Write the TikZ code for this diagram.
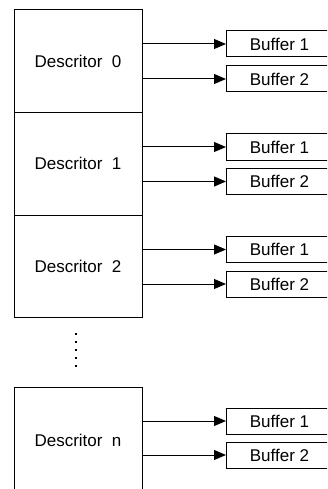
\documentclass[tikz,border=0pt]{standalone}
\usepackage{fontspec}
\setmainfont{Liberation Sans}
\usetikzlibrary{arrows.meta}
\begin{document}
\begin{tikzpicture}[x=1pt,y=-1pt,
  every node/.style={font=\fontsize{17}{20}\selectfont, inner sep=0pt},
  desc/.style={draw, line width=1pt, minimum width=128pt, minimum height=103pt},
  buf/.style={draw, line width=1pt, anchor=west, minimum width=106pt, minimum height=26pt},
  link/.style={line width=1pt, -{Triangle[length=12pt,width=10pt]}}]
\clip (0,0) rectangle (327,489);
\fill[white] (0,0) rectangle (327,489);
% descriptors
\node[desc] (d0) at (78,61.5) {Descritor\ \ 0};
\node[desc, minimum height=102.5pt] (d1) at (78,163.75) {Descritor\ \ 1};
\node[desc, minimum height=102pt] (d2) at (78,266) {Descritor\ \ 2};
\node[desc, minimum height=106pt] (dn) at (78,440) {Descritor\ \ n};
% buffers
\node[buf] (b01) at (226,44) {Buffer 1};
\node[buf] (b02) at (226,79) {Buffer 2};
\node[buf] (b11) at (226,147) {Buffer 1};
\node[buf] (b12) at (226,181.5) {Buffer 2};
\node[buf] (b21) at (226,249.5) {Buffer 1};
\node[buf] (b22) at (226,284) {Buffer 2};
\node[buf] (bn1) at (226,421) {Buffer 1};
\node[buf] (bn2) at (226,455) {Buffer 2};
% arrows
\foreach \d/\a/\b in {d0/b01/b02, d1/b11/b12, d2/b21/b22, dn/bn1/bn2}{
  \draw[link] (\d.east |- \a.west) -- (\a.west);
  \draw[link] (\d.east |- \b.west) -- (\b.west);
}
% ellipsis dots
\coordinate (dotA) at (76,333);
\coordinate (dotB) at (76,370);
\draw[line width=2pt, dash pattern=on 2pt off 6pt] (dotA) -- (dotB);
\end{tikzpicture}
\end{document}
